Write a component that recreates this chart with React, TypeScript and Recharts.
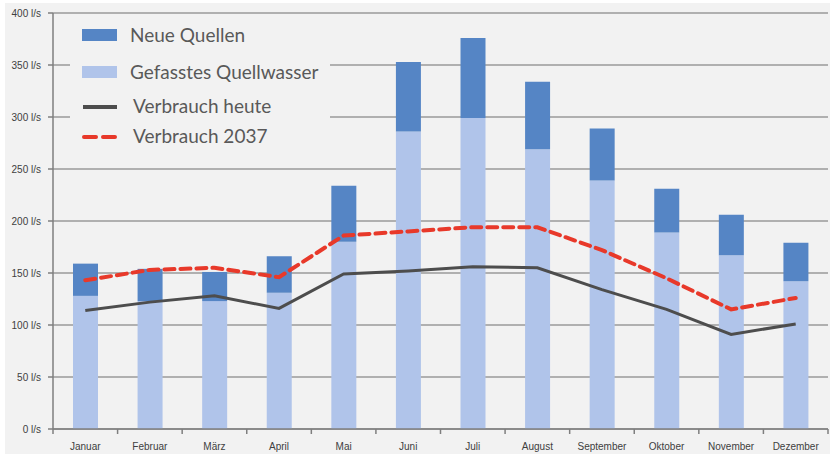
import React from 'react';
import { ComposedChart, Bar, Line, XAxis, YAxis, CartesianGrid } from 'recharts';

const months = ['Januar', 'Februar', 'März', 'April', 'Mai', 'Juni', 'Juli', 'August', 'September', 'Oktober', 'November', 'Dezember'];
const gefasst = [128, 123, 123, 131, 180, 286, 299, 269, 239, 189, 167, 142];
const neue = [31, 31, 28, 35, 54, 67, 77, 65, 50, 42, 39, 37];
const heute = [114, 122, 128, 116, 149, 152, 156, 155, 134, 115, 91, 101];
const verbrauch2037 = [143, 153, 155, 146, 186, 190, 194, 194, 172, 145, 115, 126];
const yTicks = [0, 50, 100, 150, 200, 250, 300, 350, 400];

const data = months.map((m, i) => ({
    month: m,
    gefasst: gefasst[i],
    neue: neue[i],
    heute: heute[i],
    v2037: verbrauch2037[i],
}));

const W = 830;
const H = 454;
const PLOT_LEFT = 53;
const PLOT_RIGHT = 828;
const BAND = (PLOT_RIGHT - PLOT_LEFT) / months.length;

const MonthTick = (props: any) => {
    const { x, y, payload, index } = props;
    return (
        <g>
            <line x1={x - BAND / 2} x2={x - BAND / 2} y1={y} y2={y + 5} stroke="#7f7f7f" strokeWidth={1.5} />
            {index === months.length - 1 && (
                <line x1={x + BAND / 2} x2={x + BAND / 2} y1={y} y2={y + 5} stroke="#7f7f7f" strokeWidth={1.5} />
            )}
            <text x={x} y={y + 21} textAnchor="middle" fontSize={10} fill="#404040" fontFamily="Liberation Sans, sans-serif">
                {payload.value}
            </text>
        </g>
    );
};

const legendText: React.CSSProperties = {
    position: 'absolute',
    fontFamily: 'Lato, sans-serif',
    fontSize: 19,
    color: '#595959',
    lineHeight: '20px',
    whiteSpace: 'nowrap',
};

const LegendBox = () => (
    <div style={{ position: 'absolute', left: 70, top: 18, width: 260, height: 134, background: '#f2f2f2', zIndex: 2 }}>
        <div style={{ position: 'absolute', left: 12, top: 11, width: 35, height: 12, background: '#5585c5' }} />
        <div style={{ ...legendText, left: 60, top: 7 }}>Neue Quellen</div>
        <div style={{ position: 'absolute', left: 12, top: 48, width: 35, height: 12, background: '#b0c4ea' }} />
        <div style={{ ...legendText, left: 60, top: 44 }}>Gefasstes Quellwasser</div>
        <svg style={{ position: 'absolute', left: 12, top: 80 }} width={40} height={50}>
            <line x1={1} x2={35} y1={9} y2={9} stroke="#4d4d4d" strokeWidth={4} />
            <line x1={2} x2={35} y1={39} y2={39} stroke="#e8392a" strokeWidth={4} strokeDasharray="12 7" strokeLinecap="round" />
        </svg>
        <div style={{ ...legendText, left: 63, top: 78 }}>Verbrauch heute</div>
        <div style={{ ...legendText, left: 63, top: 108 }}>Verbrauch 2037</div>
    </div>
);

export default function App() {
    return (
        <div style={{ position: 'absolute', left: 0, top: 0, width: W, height: H, background: '#ffffff' }}>
            <div style={{ position: 'absolute', left: 5, top: 3, width: W - 5, height: H - 3, background: '#f2f2f2' }} />
            <div style={{ position: 'absolute', left: 0, top: 0 }}>
                <ComposedChart
                    width={W}
                    height={H}
                    data={data}
                    margin={{ top: 13, right: W - PLOT_RIGHT, bottom: 0, left: 0 }}
                    barCategoryGap="61%"
                >
                    <CartesianGrid vertical={false} stroke="#9a9a9a" strokeWidth={1.5} />
                    <XAxis
                        dataKey="month"
                        height={25}
                        tickLine={false}
                        tickSize={0}
                        tickMargin={0}
                        interval={0}
                        stroke="#7f7f7f"
                        strokeWidth={1.5}
                        tick={<MonthTick />}
                    />
                    <YAxis
                        width={PLOT_LEFT}
                        domain={[0, 400]}
                        ticks={yTicks}
                        tickFormatter={(v: number) => `${v} l/s`}
                        tickSize={5}
                        tickMargin={7}
                        stroke="#7f7f7f"
                        strokeWidth={1.5}
                        tick={{ fontSize: 10, fill: '#404040', fontFamily: 'Liberation Sans, sans-serif' }}
                    />
                    <Bar dataKey="gefasst" stackId="q" fill="#b0c4ea" barSize={25} isAnimationActive={false} />
                    <Bar dataKey="neue" stackId="q" fill="#5585c5" barSize={25} isAnimationActive={false} />
                    <Line
                        type="linear"
                        dataKey="heute"
                        stroke="#4d4d4d"
                        strokeWidth={3}
                        dot={false}
                        activeDot={false}
                        isAnimationActive={false}
                    />
                    <Line
                        type="linear"
                        dataKey="v2037"
                        stroke="#e8392a"
                        strokeWidth={4}
                        strokeDasharray="10 6"
                        strokeLinecap="round"
                        dot={false}
                        activeDot={false}
                        isAnimationActive={false}
                    />
                </ComposedChart>
            </div>
            <LegendBox />
        </div>
    );
}
